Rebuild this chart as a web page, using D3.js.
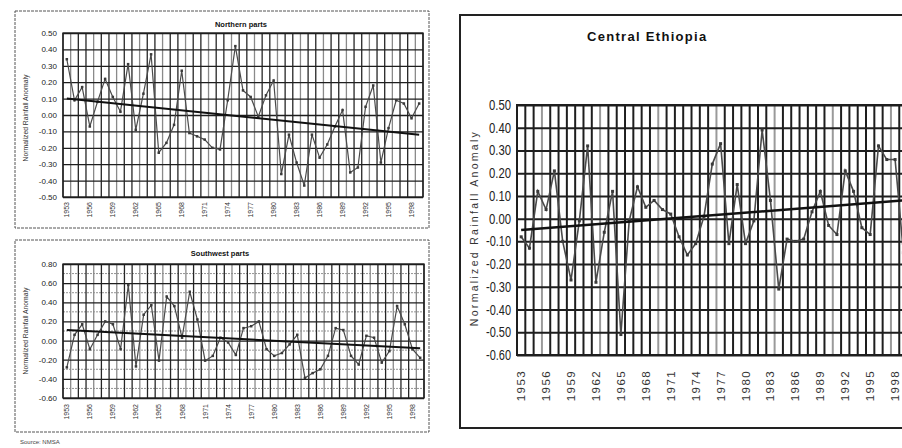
<!DOCTYPE html>
<html>
<head>
<meta charset="utf-8">
<script src="https://cdn.jsdelivr.net/npm/d3@7"></script>
<style>
body { margin: 0; background: #fff; }
svg { display: block; font-family: Arial, "Liberation Sans", sans-serif; }
</style>
</head>
<body>
<div id="canvas"></div>
<script>
// categories: one band per year, labels every third year
const years = d3.range(1953, 2000);
const labelYears = [1953, 1956, 1959, 1962, 1965, 1968, 1971, 1974, 1977, 1980, 1983, 1986, 1989, 1992, 1995, 1998];

// normalized rainfall anomaly
const northern = [0.34, 0.09, 0.17, -0.07, 0.08, 0.22, 0.11, 0.02, 0.31, -0.09,
    0.13, 0.37, -0.23, -0.17, -0.06, 0.27, -0.11, -0.13, -0.15, -0.20,
    -0.21, 0.09, 0.42, 0.15, 0.11, -0.01, 0.12, 0.21, -0.36, -0.12,
    -0.29, -0.43, -0.12, -0.26, -0.18, -0.07, 0.03, -0.35, -0.32, 0.05,
    0.18, -0.29, -0.08, 0.09, 0.07, -0.02, 0.07];
const southwest = [-0.28, 0.06, 0.17, -0.09, 0.06, 0.20, 0.17, -0.09, 0.58, -0.27,
    0.27, 0.37, -0.21, 0.46, 0.36, 0.03, 0.51, 0.22, -0.21, -0.16,
    0.03, -0.02, -0.15, 0.13, 0.15, 0.20, -0.09, -0.16, -0.13, -0.04,
    0.06, -0.39, -0.34, -0.30, -0.16, 0.13, 0.11, -0.16, -0.25, 0.05,
    0.03, -0.23, -0.11, 0.36, 0.17, -0.09, -0.18];
const central = [-0.08, -0.13, 0.12, 0.04, 0.21, -0.10, -0.27, -0.01, 0.32, -0.28,
    -0.06, 0.12, -0.51, -0.01, 0.14, 0.05, 0.08, 0.04, 0.02, -0.08,
    -0.16, -0.11, 0.01, 0.24, 0.33, -0.11, 0.15, -0.11, -0.01, 0.39,
    0.08, -0.31, -0.09, -0.10, -0.09, 0.03, 0.12, -0.03, -0.07, 0.21,
    0.12, -0.04, -0.07, 0.32, 0.26, 0.26, -0.15];

// linear trend, value at first and last year
const northernTrend = [0.10, -0.12];
const southwestTrend = [0.11, -0.08];
const centralTrend = [-0.05, 0.08];

// y tick labels
const northernTicks = [0.5, 0.4, 0.3, 0.2, 0.1, 0, -0.1, -0.2, -0.3, -0.4, -0.5];
const southwestTicks = [0.8, 0.6, 0.4, 0.2, 0, -0.2, -0.4, -0.6];
const southwestMinor = [0.7, 0.5, 0.3, 0.1, -0.1, -0.3, -0.5];
const centralTicks = [0.5, 0.4, 0.3, 0.2, 0.1, 0, -0.1, -0.2, -0.3, -0.4, -0.5, -0.6];

const svg = d3.select("#canvas")
    .append("svg")
    .attr("width", 902)
    .attr("height", 448);

const fmt = v => v.toFixed(2);

function panel(o) {
    const g = svg.append("g");

    const x = d3.scaleBand()
        .domain(years)
        .range([o.left, o.right]);
    const y = d3.scaleLinear()
        .domain(o.domain)
        .range([o.bottom, o.top]);

    // light in-between rows
    if (o.minor) {
        g.append("g").selectAll("line")
            .data(o.minor)
            .join("line")
            .attr("x1", o.left).attr("x2", o.right)
            .attr("y1", d => y(d)).attr("y2", d => y(d))
            .style("stroke", "#777")
            .style("stroke-width", 0.8)
            .style("stroke-dasharray", "2,1");
    }

    // vertical grid, one line per year boundary
    const edges = years.map(d => x(d)).concat([x.range()[1]]);
    g.append("g").selectAll("line")
        .data(edges)
        .join("line")
        .attr("x1", d => d).attr("x2", d => d)
        .attr("y1", o.top).attr("y2", o.bottom)
        .style("stroke", (d, i) => o.vColor(i))
        .style("stroke-width", o.gridW);

    // y axis + horizontal grid
    const ya = g.append("g")
        .attr("transform", "translate(" + o.left + ",0)")
        .call(d3.axisLeft(y)
            .tickValues(o.ticks)
            .tickSize(-(o.right - o.left))
            .tickPadding(o.yPad)
            .tickFormat(fmt));
    ya.select(".domain").remove();
    ya.selectAll("line")
        .style("stroke", "#1e1e1e")
        .style("stroke-width", o.gridW);
    const yt = ya.selectAll("text")
        .style("font-size", o.yFont + "px")
        .style("fill", "#222");
    if (o.yTextLen) {
        // squeeze the labels into the narrow face of the scan
        yt.attr("textLength", d => d < 0 ? o.yTextLen + 3 : o.yTextLen)
            .attr("lengthAdjust", "spacingAndGlyphs");
    }

    // x axis labels, rotated
    const xa = g.append("g")
        .attr("transform", "translate(0," + o.bottom + ")")
        .call(d3.axisBottom(x).tickValues(labelYears).tickSize(0));
    xa.select(".domain").remove();
    xa.selectAll("text")
        .attr("transform", "rotate(-90)")
        .attr("text-anchor", "end")
        .attr("x", -o.xPad)
        .attr("y", 0)
        .attr("dy", "0.35em")
        .style("font-size", o.xFont + "px")
        .style("letter-spacing", o.xSpacing + "px")
        .style("fill", o.xColor);

    // plot frame
    g.append("rect")
        .attr("x", o.left).attr("y", o.top)
        .attr("width", o.right - o.left).attr("height", o.bottom - o.top)
        .style("fill", "none")
        .style("stroke", "#1e1e1e")
        .style("stroke-width", o.gridW);

    const cx = d => x(d) + x.bandwidth() / 2;

    // anomaly series
    const line = d3.line()
        .x((d, i) => cx(years[i]))
        .y(d => y(d));
    g.append("path")
        .datum(o.values)
        .attr("d", line)
        .style("fill", "none")
        .style("stroke", "#4a4a4a")
        .style("stroke-width", o.lineW);
    g.append("g").selectAll("rect")
        .data(o.values)
        .join("rect")
        .attr("x", (d, i) => cx(years[i]) - o.mark / 2)
        .attr("y", d => y(d) - o.mark / 2)
        .attr("width", o.mark).attr("height", o.mark)
        .style("fill", "#3a3a3a");

    // trend
    g.append("line")
        .attr("x1", cx(years[0])).attr("x2", cx(years[years.length - 1]))
        .attr("y1", y(o.trend[0])).attr("y2", y(o.trend[1]))
        .style("stroke", "#111")
        .style("stroke-width", o.trendW);

    // y title
    g.append("text")
        .attr("transform", "translate(" + o.yTitleX + "," + o.yTitleY + ") rotate(-90)")
        .attr("text-anchor", "middle")
        .style("font-size", o.yTitleFont + "px")
        .style("letter-spacing", o.yTitleSpacing + "px")
        .style("fill", "#333")
        .text("Normalized Rainfall Anomaly");

    // chart title
    g.append("text")
        .attr("x", o.titleX).attr("y", o.titleY)
        .attr("text-anchor", o.titleAnchor)
        .style("font-size", o.titleFont + "px")
        .style("font-weight", "bold")
        .style("letter-spacing", o.titleSpacing + "px")
        .style("fill", "#111")
        .text(o.title);
}

// outer boxes
svg.append("rect")
    .attr("x", 15).attr("y", 11).attr("width", 414).attr("height", 217)
    .style("fill", "none").style("stroke", "#555").style("stroke-width", 1)
    .style("stroke-dasharray", "3,1");
svg.append("rect")
    .attr("x", 15).attr("y", 240).attr("width", 414).attr("height", 192)
    .style("fill", "none").style("stroke", "#555").style("stroke-width", 1)
    .style("stroke-dasharray", "3,1");
svg.append("rect")
    .attr("x", 460).attr("y", 15).attr("width", 460).attr("height", 413)
    .style("fill", "none").style("stroke", "#222").style("stroke-width", 2);

const smallCommon = {
    left: 63, right: 423, gridW: 1.3,
    vColor: i => (i % 3 === 1 ? "#8a8a8a" : "#262626"),
    yPad: 6, yFont: 8,
    xPad: 5, xFont: 7, xSpacing: 0, xColor: "#333",
    lineW: 1.2, mark: 2.5, trendW: 2,
    yTitleX: 28, yTitleFont: 6.8, yTitleSpacing: 0,
    titleFont: 7.5, titleSpacing: 0, titleAnchor: "middle"
};

panel(Object.assign({}, smallCommon, {
    top: 33, bottom: 197, domain: [-0.5, 0.5], ticks: northernTicks,
    values: northern, trend: northernTrend,
    yTitleY: 118,
    title: "Northern parts", titleX: 241, titleY: 27
}));

panel(Object.assign({}, smallCommon, {
    right: 424, top: 264, bottom: 398, domain: [-0.6, 0.8], ticks: southwestTicks,
    minor: southwestMinor,
    values: southwest, trend: southwestTrend,
    xPad: 6, yTitleY: 331,
    title: "Southwest parts", titleX: 220, titleY: 256
}));

panel({
    left: 517, right: 517 + 8.31 * years.length, top: 105, bottom: 355,
    domain: [-0.6, 0.5], ticks: centralTicks,
    values: central, trend: centralTrend,
    gridW: 2, vColor: i => (i % 7 === 3 ? "#9a9a9a" : "#1e1e1e"),
    yPad: 6, yFont: 14, yTextLen: 22,
    xPad: 15, xFont: 11.5, xSpacing: 1.4, xColor: "#333",
    lineW: 1.6, mark: 3, trendW: 2.5,
    yTitleX: 478, yTitleY: 228, yTitleFont: 10.5, yTitleSpacing: 2.3,
    title: "Central Ethiopia", titleX: 587, titleY: 41, titleFont: 13, titleSpacing: 1.3, titleAnchor: "start"
});

svg.append("text")
    .attr("x", 20).attr("y", 444)
    .style("font-size", "6px")
    .style("fill", "#444")
    .text("Source: NMSA");
</script>
</body>
</html>
